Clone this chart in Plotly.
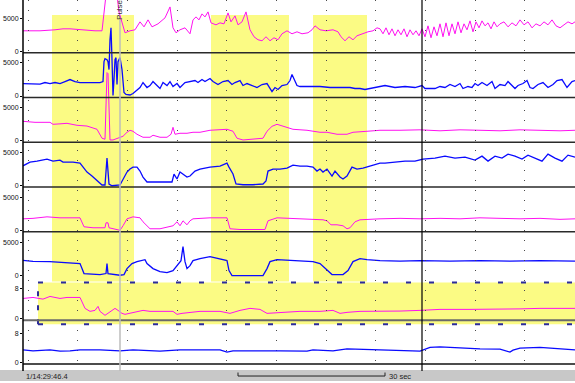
import plotly.graph_objects as go

# ---------------- data (time in s, values per channel) ----------------
t1 = [0, 3.4, 6.4, 8.0, 9.4, 11.4, 14.4, 15.8, 16.2, 16.6,
      17.8, 18.8, 19.2, 19.8, 20.4, 21.4, 22.4, 23.4, 24.2, 25.0,
      25.8, 27.0, 28.4, 29.4, 30.0, 30.6, 31.4, 32.4, 33.4, 34.0,
      34.6, 35.2, 35.8, 36.4, 37.0, 37.6, 38.6, 39.4, 40.2, 41.0,
      41.6, 42.4, 43.0, 43.8, 44.6, 45.4, 46.2, 47.0, 47.8, 48.6,
      49.4, 50.2, 51.0, 51.8, 52.8, 53.8, 54.8, 55.8, 57.0, 57.8,
      58.4, 59.4, 60.6, 62.0, 63.0, 63.6, 64.4, 65.2, 66.0, 66.8,
      67.8, 69.0, 70.0, 70.8, 71.4, 72.0, 72.6, 73.2, 73.8, 74.4,
      75.0, 75.6, 76.2, 76.8, 77.4, 78.0, 78.6, 79.2, 79.8, 80.4,
      81.0, 81.6, 82.2, 82.8, 83.4, 84.0, 84.6, 85.2, 85.8, 86.4,
      87.0, 87.6, 88.2, 88.8, 89.4, 90.0, 90.6, 91.2, 91.8, 92.4,
      93.0, 93.6, 94.2, 94.8, 95.4, 96.2, 97.0, 97.8, 98.6, 99.4,
      100.2, 101.0, 101.8, 102.6, 103.4, 104.2, 105.0, 105.8, 106.6, 107.4,
      108.2, 109.0, 109.8, 110.4]
v1 = [3080, 3080, 3230, 3380, 3380, 3230, 3080, 3080, 6230, 8480,
      8180, 8480, 5930, 4430, 2780, 3080, 3230, 4430, 3680, 4730,
      3680, 4130, 5030, 6680, 3530, 2780, 3230, 3530, 2630, 4730,
      5180, 4730, 5630, 5180, 5930, 4280, 3980, 4280, 4130, 5780,
      4430, 5330, 3980, 4430, 5930, 3230, 2180, 1730, 1580, 2180,
      1580, 2030, 1730, 2630, 3080, 2630, 2930, 2630, 2780, 3230,
      3830, 3230, 3080, 3230, 2930, 2180, 1580, 2180, 1730, 2330,
      2630, 2930, 3080, 3530, 3380, 2630, 3530, 2480, 3380, 2330,
      3230, 2480, 3380, 2180, 3230, 2480, 3080, 2330, 3380, 2180,
      3830, 2030, 3680, 2330, 4130, 2180, 4280, 2330, 4130, 2630,
      4430, 2780, 4130, 3230, 4580, 2930, 4430, 3530, 4580, 3830,
      4280, 3380, 4430, 3680, 4130, 4430, 3680, 4280, 3830, 4730,
      3980, 4430, 3530, 4130, 3830, 4430, 3980, 4730, 3830, 3530,
      3980, 4430, 4130, 4430]

t2 = [0, 3.4, 4.4, 5.4, 6.4, 7.4, 8.4, 9.4, 10.4, 11.4,
      13.4, 15.4, 16.0, 16.2, 16.4, 16.8, 17.0, 17.2, 17.4, 17.6,
      17.8, 18.0, 18.2, 18.4, 18.6, 18.8, 19.0, 19.4, 19.8, 20.2,
      20.6, 21.4, 22.0, 22.8, 23.4, 24.0, 24.8, 25.4, 26.0, 26.8,
      27.4, 28.0, 28.8, 29.4, 30.0, 30.8, 31.4, 32.4, 33.4, 34.4,
      35.0, 35.8, 36.4, 37.4, 38.0, 39.0, 40.0, 41.0, 41.8, 42.4,
      43.4, 44.0, 44.8, 45.8, 46.8, 47.8, 48.8, 49.8, 50.4, 51.0,
      51.8, 52.8, 53.4, 53.8, 54.2, 54.8, 55.4, 57.4, 59.4, 61.4,
      63.4, 65.4, 66.4, 67.4, 68.4, 69.4, 70.4, 72.4, 74.4, 76.4,
      78.4, 79.8, 80.4, 82.4, 83.4, 84.4, 85.4, 86.4, 87.4, 88.0,
      89.0, 89.8, 90.4, 91.0, 91.8, 92.8, 93.8, 94.4, 95.4, 96.4,
      97.0, 97.8, 98.4, 99.0, 100.0, 100.8, 101.4, 102.0, 103.0, 104.0,
      105.0, 106.0, 106.8, 107.8, 108.8, 109.8, 110.4]
v2 = [1880, 1800, 2030, 1880, 2030, 1880, 2180, 2480, 2180, 2030,
      2030, 2030, 2180, 5180, 5630, 5480, 5180, 3980, 8480, 10280,
      5480, 80, 2480, 5480, 5780, 1730, 5180, 5780, 3980, 530,
      230, 150, 380, 980, 1280, 2030, 1280, 1580, 2180, 1580,
      1130, 2030, 1580, 2180, 1430, 1880, 1280, 2030, 2180, 2330,
      2030, 2480, 2180, 2630, 2180, 1730, 2180, 2330, 1730, 2030,
      2330, 1580, 1880, 1580, 1280, 1730, 1880, 680, 1280, 980,
      1580, 1730, 2330, 3230, 2480, 1580, 1430, 1430, 1430, 1280,
      1280, 1280, 1130, 1130, 980, 1130, 1280, 1580, 1280, 1430,
      1280, 1580, 1130, 1130, 1430, 1280, 1730, 1430, 1880, 1130,
      1430, 1280, 1880, 1580, 2030, 1580, 2180, 1130, 1730, 1580,
      2180, 1580, 1130, 1580, 1880, 2330, 1280, 1130, 1730, 2030,
      1280, 1730, 2330, 2480, 1280, 2180, 2330]

t3 = [0, 2.4, 5.4, 6.0, 7.4, 8.8, 10.8, 12.8, 14.8, 15.4,
      15.8, 16.4, 16.6, 16.8, 17.0, 17.2, 17.4, 18.0, 19.4, 20.0,
      20.8, 21.4, 22.0, 22.8, 24.0, 25.4, 26.0, 27.4, 28.8, 29.6,
      30.0, 30.4, 31.4, 32.8, 34.0, 35.4, 37.4, 39.4, 40.8, 42.0,
      42.8, 44.0, 46.8, 48.0, 48.8, 49.8, 50.8, 51.4, 52.8, 54.0,
      56.8, 58.0, 59.4, 60.8, 62.8, 64.8, 66.0, 68.8, 71.4, 75.4,
      79.4, 83.4, 87.4, 91.4, 95.4, 99.4, 103.4, 107.4, 110.4]
v3 = [2930, 2780, 2780, 2480, 2550, 2630, 2330, 2220, 1730, 980,
      380, 230, 6230, 10280, 10130, 4730, 120, 120, 530, 680,
      1280, 1580, 1430, 980, 530, 530, 830, 530, 530, 980,
      2030, 980, 1130, 1130, 1280, 1280, 1580, 1730, 1730, 1430,
      380, 120, 230, 380, 1430, 2180, 2480, 2330, 2030, 1730,
      1580, 1430, 1280, 1280, 980, 980, 1280, 1430, 1580, 1580,
      1650, 1500, 1650, 1580, 1500, 1650, 1580, 1500, 1580]

t4 = [0, 1.4, 2.8, 4.8, 6.0, 7.4, 8.0, 8.8, 10.0, 11.4,
      12.0, 12.8, 13.8, 15.0, 15.8, 16.4, 16.6, 16.8, 17.2, 17.8,
      19.4, 20.0, 20.8, 21.4, 22.0, 22.8, 23.4, 24.0, 24.8, 26.0,
      27.4, 28.8, 29.8, 30.2, 30.8, 31.4, 32.0, 32.8, 33.4, 34.4,
      35.4, 37.4, 39.4, 40.8, 41.2, 42.0, 42.6, 44.0, 46.0, 48.0,
      48.6, 49.0, 50.0, 51.4, 52.8, 54.0, 55.4, 56.8, 58.0, 58.8,
      59.4, 60.0, 60.8, 61.8, 62.4, 63.4, 64.0, 64.8, 65.8, 66.8,
      68.0, 69.4, 70.4, 71.4, 72.4, 74.4, 76.4, 78.4, 80.0, 82.4,
      84.4, 86.4, 88.4, 90.4, 91.8, 93.0, 94.4, 95.8, 97.0, 98.4,
      99.8, 101.0, 102.4, 103.8, 105.0, 106.4, 107.8, 109.0, 110.4]
v4 = [2970, 3530, 3680, 3980, 3680, 3830, 3530, 3530, 3530, 3380,
      2780, 2030, 1430, 680, 80, 80, 2480, 4130, 230, -30,
      80, 980, 2030, 2480, 2780, 2780, 2180, 1280, 530, 530,
      530, 530, 530, 1730, 980, 2030, 1730, 1280, 1430, 2180,
      2480, 2780, 2930, 3380, 2780, 1730, 230, 120, 120, 230,
      680, 2180, 2480, 2480, 2630, 3080, 2930, 2930, 2780, 2180,
      2480, 2030, 2480, 1430, 2180, 1280, 980, 1430, 2780, 2480,
      2630, 2930, 3080, 3380, 3380, 3530, 3680, 3680, 3980, 4130,
      4430, 4130, 4280, 3830, 4430, 3680, 4430, 4130, 4730, 4430,
      3980, 4580, 4130, 3680, 4730, 4130, 3680, 4580, 4280]

t5 = [0, 2.0, 4.8, 7.4, 11.4, 11.8, 12.2, 14.0, 16.4, 16.6,
      17.0, 17.2, 19.4, 20.0, 20.8, 22.0, 23.4, 24.0, 25.4, 27.4,
      28.8, 30.0, 30.8, 31.4, 32.0, 32.8, 33.4, 34.0, 37.4, 40.8,
      41.4, 43.4, 48.4, 49.0, 50.8, 53.4, 58.0, 60.0, 60.8, 61.6,
      62.8, 64.0, 64.8, 65.4, 66.4, 67.4, 71.4, 75.4, 79.4, 83.4,
      87.4, 91.4, 95.4, 99.4, 103.4, 107.4, 110.4]
v5 = [1730, 1800, 2030, 1880, 1880, 1280, 530, 380, 380, 1130,
      1130, 380, 0, 680, 1730, 2030, 1880, 1280, 230, 230,
      530, 680, 1280, 680, 1430, 830, 1430, 1730, 1880, 1880,
      230, 120, 120, 1430, 1880, 1800, 1730, 1580, 1430, 830,
      830, 680, 230, 380, 1280, 1580, 1730, 1800, 1730, 1800,
      1730, 1880, 1800, 1730, 1800, 1650, 1730]

t6 = [0, 2.0, 5.4, 8.8, 11.4, 11.8, 12.2, 15.4, 16.6, 16.8,
      17.0, 19.4, 20.2, 20.8, 21.8, 22.8, 23.4, 24.4, 24.8, 26.0,
      27.4, 28.8, 30.0, 30.6, 31.6, 32.0, 32.4, 32.8, 33.4, 34.0,
      35.4, 37.4, 39.4, 40.8, 41.2, 41.8, 44.8, 48.0, 48.8, 49.4,
      50.8, 53.4, 56.8, 58.0, 59.4, 60.8, 61.8, 64.0, 65.0, 66.0,
      67.4, 68.8, 71.4, 75.4, 79.4, 85.4, 91.4, 97.4, 103.4, 110.4]
v6 = [2300, 2150, 2100, 1950, 1800, 1050, 300, 150, 300, 1800,
      300, 50, 150, 1050, 1800, 2100, 2250, 2400, 1800, 1050,
      600, 450, 750, 1350, 2250, 4350, 2100, 1050, 1500, 2250,
      2550, 2850, 2550, 2250, 750, 0, 0, 0, 1050, 2100,
      2400, 2250, 2100, 2100, 1800, 750, 150, 150, 750, 2100,
      2550, 2400, 2250, 2180, 2250, 2180, 2250, 2180, 2250, 2180]

t7 = [0, 2.0, 4.0, 5.4, 7.4, 8.8, 11.4, 11.8, 12.4, 13.4,
      14.4, 15.0, 15.4, 16.4, 17.0, 17.8, 18.4, 19.0, 19.8, 20.4,
      22.0, 24.0, 25.4, 27.4, 30.0, 30.8, 31.8, 35.4, 39.4, 41.4,
      43.4, 45.4, 47.4, 48.8, 51.4, 55.4, 59.4, 62.0, 63.4, 64.8,
      67.4, 71.4, 75.4, 79.4, 83.4, 89.4, 95.4, 99.4, 103.4, 110.4]
v7 = [5.33, 5.6, 5.15, 5.87, 5.33, 5.6, 5.6, 4.53, 2.67, 1.87,
      2.13, 3.2, 1.87, 0.8, 1.33, 2.13, 2.67, 2.13, 1.33, 1.07,
      1.6, 2.13, 1.87, 1.87, 1.87, 1.07, 1.33, 1.87, 1.87, 1.33,
      2.13, 2.67, 2.4, 1.33, 1.6, 1.87, 1.87, 2.13, 1.33, 1.6,
      1.87, 1.87, 1.95, 2.13, 2.4, 2.4, 2.4, 2.53, 2.67, 2.67]

t8 = [0, 2.0, 5.4, 7.4, 9.4, 11.4, 15.4, 19.4, 22.0, 27.4,
      31.4, 35.4, 39.4, 40.8, 42.0, 51.4, 56.8, 58.0, 62.0, 64.8,
      68.8, 71.4, 79.4, 81.4, 83.4, 87.4, 91.4, 95.4, 96.8, 97.4,
      98.0, 99.4, 103.4, 107.4, 110.4]
v8 = [3.4, 3.12, 3.4, 3.04, 3.12, 3.4, 3.4, 3.12, 3.4, 3.04,
      3.4, 3.4, 3.4, 2.76, 3.12, 3.12, 3.04, 3.4, 3.12, 3.67,
      3.4, 3.4, 3.04, 4.06, 4.22, 3.86, 3.67, 3.59, 3.04, 2.76,
      3.31, 3.86, 4.06, 3.67, 3.4]

# event intervals (s), markers and labels
events = [(5.8, 22.2), (37.6, 53.2), (58.0, 68.8)]
band7_start = 3.0
pulse_t = 19.4
cursor_t = 79.8
scale_bar = (43.0, 72.4)
time_label = "1/14:29:46.4"
scale_label = "30 sec"
pulse_label = "Pulse"
big_ticks = [0, 5000]
small_ticks = [0, 8]

# ---------------- styling / layout ----------------
W, H = 575, 383
PINK = "#ff10f0"
BLUE = "#0a0aff"
YELLOW = "#fbfb84"
FONT = "Liberation Sans"
T_END = 110.4

def py(px):
    return 1 - px / H

channels = [(t1, v1, PINK), (t2, v2, BLUE), (t3, v3, PINK), (t4, v4, BLUE),
            (t5, v5, PINK), (t6, v6, BLUE), (t7, v7, PINK), (t8, v8, BLUE)]
panel_bottom = [53, 98, 143, 188, 233, 284, 322, 366]
panel_zero = [51.5, 96.5, 141.5, 186.5, 231.5, 277, 320, 364]
units_px = [150] * 6 + [8 / 30, 8 / 29]
tick_sets = [big_ticks] * 6 + [small_ticks] * 2

fig = go.Figure()
layout = dict(
    width=W, height=H, margin=dict(l=0, r=0, t=0, b=0),
    paper_bgcolor="white", plot_bgcolor="rgba(0,0,0,0)",
    showlegend=False,
    font=dict(family=FONT, size=7, color="#111"),
    xaxis=dict(domain=[23 / W, 1], range=[0, T_END], anchor="y8",
               showgrid=True, gridcolor="#4a4a4a", gridwidth=1, griddash="1px,9px",
               tickmode="linear", tick0=1.04, dtick=9.93,
               showticklabels=False, ticks="", zeroline=False, showline=False),
)
for k, (t, v, col) in enumerate(channels, start=1):
    yname = "y" if k == 1 else f"y{k}"
    fig.add_trace(go.Scatter(x=t, y=v, mode="lines", xaxis="x", yaxis=yname,
                             line=dict(color=col, width=1.0 if col == PINK else 1.3),
                             hoverinfo="skip"))
    b, z, u = panel_bottom[k - 1], panel_zero[k - 1], units_px[k - 1]
    ticks = tick_sets[k - 1]
    layout["yaxis" if k == 1 else f"yaxis{k}"] = dict(
        domain=[py(b), 1], range=[-(b - z) * u, z * u], anchor="x",
        tickmode="array", tickvals=ticks, ticktext=[str(x) for x in ticks],
        ticks="outside", ticklen=2, tickcolor="#000", tickfont=dict(size=7, color="#111"),
        showgrid=False, zeroline=False, showline=False)
fig.update_layout(**layout)

shapes = []
for a, b in events:
    shapes.append(dict(type="rect", xref="x", yref="paper", x0=a, x1=b, y0=py(283), y1=py(15),
                       fillcolor=YELLOW, line=dict(width=0), layer="below"))
shapes.append(dict(type="rect", xref="x", yref="paper", x0=band7_start, x1=T_END,
                   y0=py(326), y1=py(284), fillcolor=YELLOW, line=dict(width=0), layer="below"))
for yy in (284, 326):
    shapes.append(dict(type="line", xref="x", yref="paper", x0=band7_start, x1=T_END,
                       y0=py(yy), y1=py(yy), line=dict(color="#2b2b9a", width=2, dash="5px,18px")))
shapes.append(dict(type="line", xref="x", yref="paper", x0=band7_start, x1=band7_start,
                   y0=py(326), y1=py(284), line=dict(color="#2b2b9a", width=2, dash="5px,9px")))
# panel separators
for k in range(1, 6):
    ref = "y domain" if k == 1 else f"y{k} domain"
    shapes.append(dict(type="line", xref="x domain", yref=ref, x0=0, x1=1, y0=0, y1=0,
                       line=dict(color="#2a2a2a", width=1.5)))
shapes.append(dict(type="line", xref="x domain", yref="y7 domain", x0=0, x1=1, y0=0, y1=0,
                   line=dict(color="#6a6a6a", width=2)))
shapes.append(dict(type="line", xref="x domain", yref="y8 domain", x0=0, x1=1, y0=0, y1=0,
                   line=dict(color="#111", width=1.5)))
# bottom status bar
shapes.append(dict(type="rect", xref="paper", yref="paper", x0=0, x1=1, y0=0, y1=py(372),
                   fillcolor="#c8c8c8", line=dict(width=0), layer="below"))
# left axis line
shapes.append(dict(type="line", xref="x domain", yref="paper", x0=0, x1=0, y0=py(373), y1=1,
                   line=dict(color="#000", width=1.5)))
# pulse marker and cursor
shapes.append(dict(type="line", xref="x", yref="paper", x0=pulse_t, x1=pulse_t, y0=py(373), y1=py(20),
                   line=dict(color="#bdbdbd", width=1.5)))
shapes.append(dict(type="line", xref="x", yref="paper", x0=cursor_t, x1=cursor_t, y0=py(373), y1=1,
                   line=dict(color="#000", width=1.2)))
# scale bar
sb0, sb1 = scale_bar
shapes.append(dict(type="line", xref="x", yref="paper", x0=sb0, x1=sb1, y0=py(378), y1=py(378),
                   line=dict(color="#222", width=1)))
for sx in (sb0, sb1):
    shapes.append(dict(type="line", xref="x", yref="paper", x0=sx, x1=sx, y0=py(378), y1=py(374.5),
                       line=dict(color="#222", width=1)))

annotations = [
    dict(x=pulse_t, y=py(10), xref="x", yref="paper", text=pulse_label, showarrow=False,
         textangle=-90, xanchor="center", yanchor="middle", font=dict(size=8, color="#333")),
    dict(x=24 / W, y=py(378), xref="paper", yref="paper", text=time_label, showarrow=False,
         xanchor="left", yanchor="middle", font=dict(size=7.5, color="#222")),
    dict(x=sb1 + 0.4, y=py(378), xref="x", yref="paper", text=scale_label, showarrow=False,
         xanchor="left", yanchor="middle", font=dict(size=7.5, color="#222")),
]
fig.update_layout(shapes=shapes, annotations=annotations)
fig.write_html("out.html", config={"displayModeBar": False, "staticPlot": True},
               post_script="document.body.style.margin='0';document.body.style.overflow='hidden';")
